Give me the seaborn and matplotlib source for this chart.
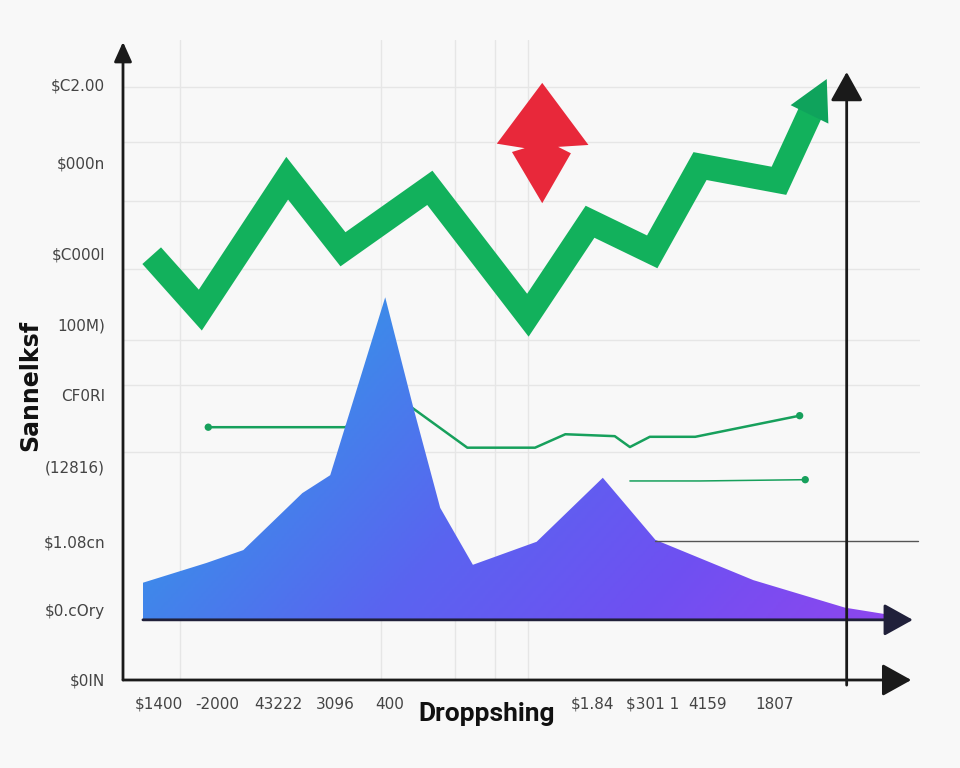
import numpy as np
import pandas as pd
import matplotlib
matplotlib.use("Agg")
import matplotlib.pyplot as plt
import seaborn as sns
from matplotlib.colors import LinearSegmentedColormap

# ---------------- data ----------------
trend_x = [3.6, 9.7, 20.6, 27.6, 38.5, 50.8, 58.6, 66.4, 72.4, 82.3, 86.3]
trend_y = [66.3, 57.8, 78.4, 67.3, 76.9, 57.0, 71.6, 66.9, 80.3, 78.0, 88.8]
trend_tip = (88.3, 93.9)

area_x = [2.5, 10.5, 15.1, 22.5, 26.0, 32.9, 36.4, 39.8, 43.9, 51.9, 60.2, 66.8, 79.1, 90.6, 97.1]
area_y = [15.2, 18.3, 20.3, 29.2, 32.0, 59.8, 42.7, 26.9, 18.0, 21.6, 31.6, 21.9, 15.6, 11.3, 10.0]
area_base = 9.4

thin1_x = [10.7, 27.9, 34.1, 43.2, 51.7, 55.5, 61.7, 63.6, 66.1, 71.8, 84.9]
thin1_y = [39.5, 39.5, 44.5, 36.3, 36.3, 38.4, 38.1, 36.4, 38.0, 38.0, 41.3]

thin2_x = [63.6, 72.4, 85.6]
thin2_y = [31.1, 31.1, 31.3]

diamond_x = [52.6, 46.9, 50.4, 48.8, 52.6, 56.2, 54.6, 58.4]
diamond_y = [93.3, 83.8, 83.1, 82.5, 74.5, 82.3, 83.3, 83.6]

ref_level = 21.7
ref_span = (0.6675, 0.997)
marker_x = 90.8

ytick_pos = [93.0, 80.9, 66.6, 55.5, 44.5, 33.4, 21.7, 10.9, 0.0]
ytick_labels = ["$C2.00", "$000n", "$C000l", "100M)", "CF0RI", "(12816)",
                "$1.08cn", "$0.cOry", "$0IN"]
xtick_pos = [4.5, 11.8, 19.5, 26.6, 33.5, 58.9, 66.4, 73.4, 81.8, 90.7]
xtick_labels = ["$1400", "-2000", "43222", "3096", "400", "$1.84", "$301 1",
                "4159", "1807", ""]
grid_y = [92.7, 84.1, 74.8, 64.2, 53.1, 46.1, 35.6]
grid_x = [7.2, 32.4, 41.7, 46.7, 50.8, 73.4, 81.8]

x_label = "Droppshing"
y_label = "Sannelksf"

# ---------------- style ----------------
sns.set_theme(style="white")
plt.rcParams["font.family"] = ["DejaVu Sans"]
BG = "#f8f8f8"
GREEN = "#12b15c"
THIN_GREEN = "#17a05c"
RED = "#e8283a"
AXIS = "#1a1a1a"

fig = plt.figure(figsize=(9.6, 7.68), dpi=100, facecolor=BG)
ax = fig.add_axes([123 / 960, 88 / 768, 797 / 960, 640 / 768])
ax.set_facecolor(BG)
ax.set_xlim(0, 100)
ax.set_ylim(0, 100)
for s in ax.spines.values():
    s.set_visible(False)

# grid via minor ticks
ax.set_yticks(grid_y, minor=True)
ax.set_xticks(grid_x, minor=True)
ax.grid(which="minor", color="#e6e6e6", lw=1.0, zorder=0)
ax.grid(which="major", visible=False)
ax.tick_params(which="minor", length=0)

# ticks
ax.set_yticks(ytick_pos, ytick_labels)
ax.set_xticks(xtick_pos, xtick_labels)
ax.tick_params(axis="y", which="major", length=0, pad=13, labelsize=11,
               labelcolor="#444444")
ax.tick_params(axis="x", which="major", length=4, width=1.4, color=AXIS,
               direction="out", pad=8, labelsize=11, labelcolor="#444444")

# thin green line behind the area
df1 = pd.DataFrame({"x": thin1_x, "y": thin1_y})
sns.lineplot(data=df1, x="x", y="y", sort=False, color=THIN_GREEN, lw=1.8,
             ax=ax, zorder=1)
ax.scatter([thin1_x[0], thin1_x[-1]], [thin1_y[0], thin1_y[-1]], s=28,
           color=THIN_GREEN, zorder=1, edgecolors="none")

# gradient area
coll = ax.fill_between(area_x, area_base, area_y, facecolor="none",
                       edgecolor="none", zorder=2)
cmap = LinearSegmentedColormap.from_list(
    "bp", ["#3a92e6", "#3f88ea", "#5a64f0", "#6f50f2", "#8e46ee"])
nx, ny = 300, 200
gx = np.linspace(0, 1, nx)
gy = np.linspace(0, 1, ny)
GX, GY = np.meshgrid(gx, gy)
grad = 0.72 * GX + 0.28 * (1 - GY)
x0, x1 = min(area_x), max(area_x)
y0, y1 = area_base, max(area_y)
im = ax.imshow(grad, extent=[x0, x1, y0, y1], origin="lower", cmap=cmap,
               aspect="auto", zorder=2, vmin=0, vmax=1)
im.set_clip_path(coll.get_paths()[0], transform=ax.transData)

# second thin green line
df2 = pd.DataFrame({"x": thin2_x, "y": thin2_y})
sns.lineplot(data=df2, x="x", y="y", sort=False, color=THIN_GREEN, lw=1.1,
             ax=ax, zorder=3)
ax.scatter([thin2_x[-1]], [thin2_y[-1]], s=28, color=THIN_GREEN, zorder=3,
           edgecolors="none")

# reference line
ax.axhline(ref_level, xmin=ref_span[0], xmax=ref_span[1], color="#555555",
           lw=1.0, zorder=3)

# thick green trend
dft = pd.DataFrame({"x": trend_x, "y": trend_y})
sns.lineplot(data=dft, x="x", y="y", sort=False, color=GREEN, lw=18, ax=ax,
             zorder=4, solid_joinstyle="miter", solid_capstyle="butt")

# arrow head of the trend, built in display space from the last point and tip
base_d = ax.transData.transform((trend_x[-1], trend_y[-1]))
tip_d = ax.transData.transform(trend_tip)
vec = tip_d - base_d
L = np.hypot(*vec)
u = vec / L
perp = np.array([-u[1], u[0]])
back = base_d - u * 3
half_w = 21
head_d = np.array([tip_d, back + perp * half_w, back - perp * half_w])
head = ax.transData.inverted().transform(head_d)
ax.fill(head[:, 0], head[:, 1], color="#0fa35c", zorder=4, lw=0)

# red diamond
ax.fill(diamond_x, diamond_y, color=RED, zorder=5, lw=0)

# axes arrows
def arrow(p0, p1, color=AXIS, lw=2.0, scale=20, hl=0.9, hw=0.5):
    ax.annotate("", xy=p1, xytext=p0, annotation_clip=False,
                arrowprops=dict(arrowstyle=f"-|>,head_length={hl},head_width={hw}",
                                mutation_scale=scale, color=color, lw=lw,
                                shrinkA=0, shrinkB=0), zorder=6)

arrow((0, 0), (0, 99.7), scale=12, hl=1.0, hw=0.45)
arrow((0, 0), (98.9, 0))
arrow((area_x[0], area_base), (99.1, area_base), color="#20203a")
arrow((marker_x, -0.8), (marker_x, 95.0))

# labels
ax.set_xlabel(x_label, fontsize=19, fontweight="bold", color="#111111",
              family=["Roboto", "DejaVu Sans"], va="top")
ax.xaxis.set_label_coords(0.4567, -0.034)
ax.set_ylabel(y_label, fontsize=17, fontweight="bold", color="#111111",
              va="center", ha="center")
ax.yaxis.set_label_coords(-0.1167, 0.461)

fig.savefig("out.png", dpi=100, facecolor=BG)
